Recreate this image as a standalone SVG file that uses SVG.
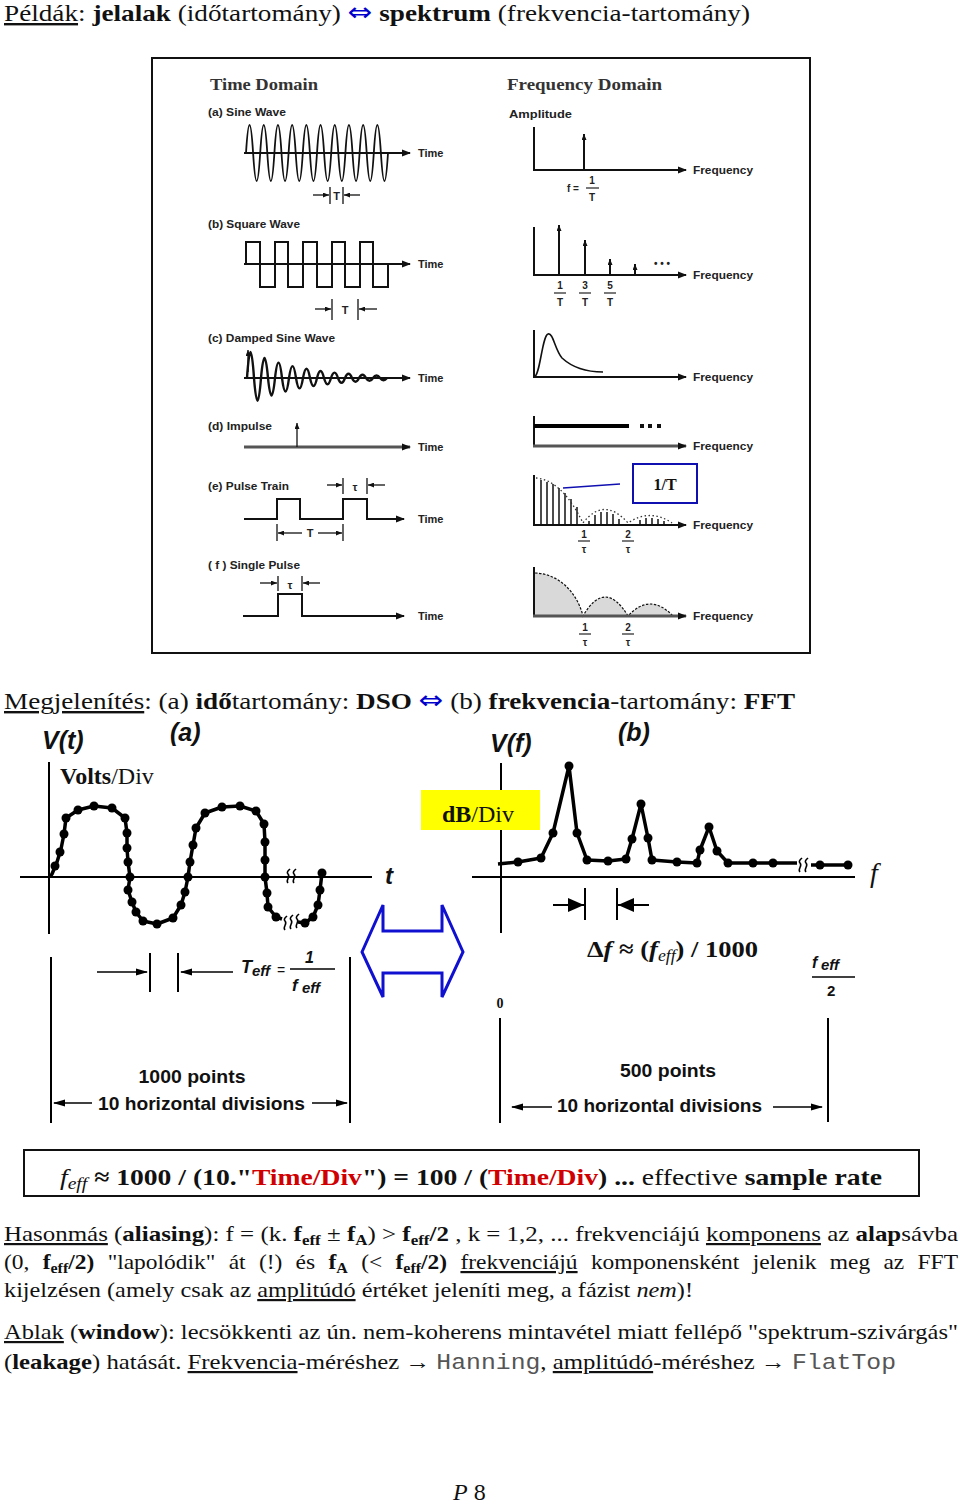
<svg xmlns="http://www.w3.org/2000/svg" width="960" height="1504" viewBox="0 0 960 1504">
<defs>
<style>
.serif{font-family:"Liberation Serif","Times New Roman",serif;fill:#111}
.sans{font-family:"Liberation Sans",Arial,sans-serif;fill:#111}
.lbl{font-family:"Liberation Sans",Arial,sans-serif;font-weight:bold;font-size:11px;fill:#222}
.ttl{font-family:"Liberation Serif","Times New Roman",serif;font-weight:bold;font-size:16px;fill:#333}
.frac{font-family:"Liberation Sans",Arial,sans-serif;font-weight:bold;font-size:10px;fill:#222;text-anchor:middle}
.ax{stroke:#111;stroke-width:2;fill:none}
.axg{stroke:#555;stroke-width:3;fill:none}
.w{stroke:#111;fill:none}
.thin{stroke:#111;stroke-width:1.3;fill:none}
.b{font-weight:bold}
.u{text-decoration:underline}
.i{font-style:italic}
.red{fill:#d00000}
.mono{font-family:"Liberation Mono","Courier New",monospace;fill:#555}
.arr{font-family:"DejaVu Sans",sans-serif;fill:#0000cc;font-size:26px}
.big{font-family:"Liberation Sans",Arial,sans-serif;font-weight:bold;font-style:italic;fill:#111}
.pts{font-family:"Liberation Sans",Arial,sans-serif;font-weight:bold;font-size:19px;fill:#111}
</style>
<marker id="ma" markerUnits="userSpaceOnUse" markerWidth="9" markerHeight="8" viewBox="0 0 9 8" refX="8" refY="4" orient="auto"><path d="M0,0.5 L9,4 L0,7.5z" fill="#111"/></marker>
<marker id="ms" markerUnits="userSpaceOnUse" markerWidth="6" markerHeight="5" viewBox="0 0 6 5" refX="6" refY="2.5" orient="auto"><path d="M0,0 L6,2.5 L0,5z" fill="#111"/></marker>
<marker id="mb" markerUnits="userSpaceOnUse" markerWidth="12" markerHeight="8" viewBox="0 0 12 8" refX="11" refY="4" orient="auto"><path d="M0,0.5 L12,4 L0,7.5z" fill="#000"/></marker>
<marker id="mt" markerUnits="userSpaceOnUse" markerWidth="16" markerHeight="14" viewBox="0 0 16 14" refX="16" refY="7" orient="auto"><path d="M0,0 L16,7 L0,14z" fill="#000"/></marker>
</defs>
<rect width="960" height="1504" fill="#fff"/>

<g id="title">
<text class="serif" x="4" y="21" font-size="24" textLength="746" lengthAdjust="spacingAndGlyphs"><tspan class="u">Példák</tspan>: <tspan class="b">jelalak</tspan> (időtartomány) <tspan class="arr">⇔</tspan> <tspan class="b">spektrum</tspan> (frekvencia-tartomány)</text>
</g>

<g id="examples-panel">
<rect x="152" y="58" width="658" height="595" fill="#fff" stroke="#111" stroke-width="2"/>
<text class="ttl" x="210" y="90" textLength="108" lengthAdjust="spacingAndGlyphs">Time Domain</text>
<text class="ttl" x="507" y="90" textLength="155" lengthAdjust="spacingAndGlyphs">Frequency Domain</text>
<text class="lbl" x="509" y="118" textLength="63" lengthAdjust="spacingAndGlyphs">Amplitude</text>

<g id="sine-wave">
<text class="lbl" x="208" y="116" textLength="78" lengthAdjust="spacingAndGlyphs">(a) Sine Wave</text>
<line class="ax" x1="244" y1="153" x2="410" y2="153" marker-end="url(#ma)"/>
<path class="w" stroke-width="1.8" d="M246,153 q3.55,-56 7.1,0 t7.1,0 t7.1,0 t7.1,0 t7.1,0 t7.1,0 t7.1,0 t7.1,0 t7.1,0 t7.1,0 t7.1,0 t7.1,0 t7.1,0 t7.1,0 t7.1,0 t7.1,0 t7.1,0 t7.1,0 t7.1,0 t7.1,0"/>
<text class="lbl" x="418" y="157">Time</text>
<line class="thin" x1="330" y1="187" x2="330" y2="204"/><line class="thin" x1="343" y1="187" x2="343" y2="204"/>
<line class="thin" x1="313" y1="195" x2="329" y2="195" marker-end="url(#ms)"/><line class="thin" x1="360" y1="195" x2="344" y2="195" marker-end="url(#ms)"/>
<text class="lbl" x="336.5" y="200" text-anchor="middle">T</text>
</g>
<g id="freq-a">
<line class="ax" x1="534" y1="127" x2="534" y2="170"/>
<line class="ax" x1="533" y1="170" x2="686" y2="170" marker-end="url(#ma)"/>
<line class="ax" x1="584" y1="170" x2="584" y2="134" marker-end="url(#ms)"/>
<text class="lbl" x="693" y="174" textLength="60" lengthAdjust="spacingAndGlyphs">Frequency</text>
<text class="frac" x="573" y="192">f =</text>
<text class="frac" x="592" y="184">1</text><line x1="586" y1="188" x2="599" y2="188" stroke="#222" stroke-width="1.2"/><text class="frac" x="592" y="201">T</text>
</g>

<g id="square-wave">
<text class="lbl" x="208" y="228" textLength="92" lengthAdjust="spacingAndGlyphs">(b) Square Wave</text>
<line class="ax" x1="244" y1="264" x2="410" y2="264" marker-end="url(#ma)"/>
<path class="w" stroke-width="2" d="M246,264 V242 H260 V287 H275 V242 H288 V287 H303 V242 H317 V287 H332 V242 H345 V287 H360 V242 H373 V287 H388 V264"/>
<text class="lbl" x="418" y="268">Time</text>
<line class="thin" x1="332" y1="299" x2="332" y2="320"/><line class="thin" x1="358" y1="299" x2="358" y2="320"/>
<line class="thin" x1="315" y1="309" x2="331" y2="309" marker-end="url(#ms)"/><line class="thin" x1="377" y1="309" x2="359" y2="309" marker-end="url(#ms)"/>
<text class="lbl" x="345" y="314" text-anchor="middle">T</text>
</g>
<g id="freq-b">
<line class="ax" x1="534" y1="227" x2="534" y2="275"/>
<line class="ax" x1="533" y1="275" x2="686" y2="275" marker-end="url(#ma)"/>
<line class="ax" x1="559" y1="275" x2="559" y2="225" marker-end="url(#ms)"/>
<line class="ax" x1="585" y1="275" x2="585" y2="240" marker-end="url(#ms)"/>
<line class="ax" x1="610" y1="275" x2="610" y2="259" marker-end="url(#ms)"/>
<line class="ax" x1="635" y1="275" x2="635" y2="264" marker-end="url(#ms)"/>
<text class="frac" x="662" y="267" font-size="12">• • •</text>
<text class="lbl" x="693" y="279" textLength="60" lengthAdjust="spacingAndGlyphs">Frequency</text>
<text class="frac" x="560" y="289">1</text><line x1="554" y1="293" x2="566" y2="293" stroke="#222" stroke-width="1.2"/><text class="frac" x="560" y="306">T</text>
<text class="frac" x="585" y="289">3</text><line x1="579" y1="293" x2="591" y2="293" stroke="#222" stroke-width="1.2"/><text class="frac" x="585" y="306">T</text>
<text class="frac" x="610" y="289">5</text><line x1="604" y1="293" x2="616" y2="293" stroke="#222" stroke-width="1.2"/><text class="frac" x="610" y="306">T</text>
</g>

<g id="damped-wave">
<text class="lbl" x="208" y="342" textLength="127" lengthAdjust="spacingAndGlyphs">(c) Damped Sine Wave</text>
<line class="ax" x1="244" y1="378" x2="410" y2="378" marker-end="url(#ma)"/>
<line class="thin" x1="248" y1="372" x2="248" y2="350" marker-end="url(#ms)"/>
<path class="w" stroke-width="2.4" d="M247,378 q3.5,-52 7,0 q3.5,45.6 7,0 q3.5,-40 7,0 q3.5,35.2 7,0 q3.5,-30.8 7,0 q3.5,27 7,0 q3.5,-23.8 7,0 q3.5,20.8 7,0 q3.5,-18.4 7,0 q3.5,16 7,0 q3.5,-14 7,0 q3.5,12.4 7,0 q3.5,-10.8 7,0 q3.5,9.6 7,0 q3.5,-8.4 7,0 q3.5,7.4 7,0 q3.5,-6.4 7,0 q3.5,5.6 7,0 q3.5,-5 7,0 q3.5,4.4 7,0"/>
<text class="lbl" x="418" y="382">Time</text>
</g>
<g id="freq-c">
<line class="ax" x1="534" y1="330" x2="534" y2="377"/>
<line class="ax" x1="533" y1="377" x2="686" y2="377" marker-end="url(#ma)"/>
<path class="w" stroke-width="1.6" d="M534,377 C540,377 542,336 548,334 C553,332 555,350 562,358 C574,369 588,372 603,372"/>
<text class="lbl" x="693" y="381" textLength="60" lengthAdjust="spacingAndGlyphs">Frequency</text>
</g>

<g id="impulse">
<text class="lbl" x="208" y="430" textLength="64" lengthAdjust="spacingAndGlyphs">(d) Impulse</text>
<line class="axg" x1="244" y1="447" x2="410" y2="447" marker-end="url(#ma)"/>
<line class="thin" x1="297" y1="447" x2="297" y2="423" marker-end="url(#ms)"/>
<text class="lbl" x="418" y="451">Time</text>
</g>
<g id="freq-d">
<line class="ax" x1="534" y1="416" x2="534" y2="446"/>
<line class="axg" x1="533" y1="446" x2="686" y2="446" marker-end="url(#ma)"/>
<line x1="534" y1="426" x2="629" y2="426" stroke="#000" stroke-width="4"/>
<rect x="640" y="424" width="4" height="4" fill="#111"/><rect x="648" y="424" width="4" height="4" fill="#111"/><rect x="657" y="424" width="4" height="4" fill="#111"/>
<text class="lbl" x="693" y="450" textLength="60" lengthAdjust="spacingAndGlyphs">Frequency</text>
</g>

<g id="pulse-train">
<text class="lbl" x="208" y="490" textLength="81" lengthAdjust="spacingAndGlyphs">(e) Pulse Train</text>
<path class="w" stroke-width="2" d="M244,519 H277 V499 H300 V519 H343 V499 H367 V519 H404" marker-end="url(#ma)"/>
<text class="lbl" x="418" y="523">Time</text>
<line class="thin" x1="343" y1="478" x2="343" y2="494"/><line class="thin" x1="367" y1="478" x2="367" y2="494"/>
<line class="thin" x1="327" y1="485" x2="342" y2="485" marker-end="url(#ms)"/><line class="thin" x1="385" y1="485" x2="368" y2="485" marker-end="url(#ms)"/>
<text class="lbl" x="355" y="491" text-anchor="middle" font-size="13">τ</text>
<line class="thin" x1="277" y1="524" x2="277" y2="541"/><line class="thin" x1="343" y1="524" x2="343" y2="541"/>
<line class="thin" x1="302" y1="533" x2="278" y2="533" marker-end="url(#ms)"/><line class="thin" x1="318" y1="533" x2="342" y2="533" marker-end="url(#ms)"/>
<text class="lbl" x="310" y="537" text-anchor="middle">T</text>
</g>
<g id="freq-e">
<line class="ax" x1="534" y1="475" x2="534" y2="525"/>
<line class="ax" x1="533" y1="525" x2="686" y2="525" marker-end="url(#ma)"/>
<g stroke="#111" stroke-width="1.5">
<line x1="541" y1="525" x2="541" y2="480"/><line x1="547" y1="525" x2="547" y2="482"/><line x1="553" y1="525" x2="553" y2="484"/><line x1="559" y1="525" x2="559" y2="488"/><line x1="565" y1="525" x2="565" y2="493"/><line x1="571" y1="525" x2="571" y2="499"/><line x1="577" y1="525" x2="577" y2="507"/>
<line x1="589" y1="525" x2="589" y2="521"/><line x1="595" y1="525" x2="595" y2="515"/><line x1="601" y1="525" x2="601" y2="512"/><line x1="607" y1="525" x2="607" y2="512"/><line x1="613" y1="525" x2="613" y2="514"/><line x1="619" y1="525" x2="619" y2="519"/>
<line x1="640" y1="525" x2="640" y2="520"/><line x1="646" y1="525" x2="646" y2="518"/><line x1="652" y1="525" x2="652" y2="518"/><line x1="658" y1="525" x2="658" y2="519"/><line x1="664" y1="525" x2="664" y2="521"/>
</g>
<path d="M536,478 Q562,480 583,523 Q604,496 628,523 Q650,508 672,523" fill="none" stroke="#333" stroke-width="1.3" stroke-dasharray="1.5,2.5"/>
<line x1="563" y1="488" x2="620" y2="484" stroke="#1010b0" stroke-width="1.6"/>
<rect x="633" y="464" width="64" height="39" fill="#fff" stroke="#1010b0" stroke-width="2"/>
<text class="serif b" x="665" y="490" font-size="16" text-anchor="middle">1/T</text>
<text class="lbl" x="693" y="529" textLength="60" lengthAdjust="spacingAndGlyphs">Frequency</text>
<text class="frac" x="584" y="538">1</text><line x1="578" y1="541" x2="590" y2="541" stroke="#222" stroke-width="1.2"/><text class="frac" x="584" y="553" font-size="12">τ</text>
<text class="frac" x="628" y="538">2</text><line x1="622" y1="541" x2="634" y2="541" stroke="#222" stroke-width="1.2"/><text class="frac" x="628" y="553" font-size="12">τ</text>
</g>

<g id="single-pulse">
<text class="lbl" x="208" y="569" textLength="92" lengthAdjust="spacingAndGlyphs">( f ) Single Pulse</text>
<path class="w" stroke-width="2" d="M243,616 H278 V594 H302 V616 H404" marker-end="url(#ma)"/>
<text class="lbl" x="418" y="620">Time</text>
<line class="thin" x1="278" y1="576" x2="278" y2="591"/><line class="thin" x1="302" y1="576" x2="302" y2="591"/>
<line class="thin" x1="260" y1="583" x2="277" y2="583" marker-end="url(#ms)"/><line class="thin" x1="320" y1="583" x2="303" y2="583" marker-end="url(#ms)"/>
<text class="lbl" x="290" y="589" text-anchor="middle" font-size="13">τ</text>
</g>
<g id="freq-f">
<path d="M534,616 L534,573 C558,573 577,592 583,616 Q605,578 628,616 Q650,592 673,616 Z" fill="#d9d9d9" stroke="#111" stroke-width="1.2" stroke-dasharray="2.5,1.5"/>
<line class="ax" x1="534" y1="567" x2="534" y2="616"/>
<line class="axg" x1="533" y1="616" x2="686" y2="616" marker-end="url(#ma)"/>
<text class="lbl" x="693" y="620" textLength="60" lengthAdjust="spacingAndGlyphs">Frequency</text>
<text class="frac" x="585" y="631">1</text><line x1="579" y1="634" x2="591" y2="634" stroke="#222" stroke-width="1.2"/><text class="frac" x="585" y="646" font-size="12">τ</text>
<text class="frac" x="628" y="631">2</text><line x1="622" y1="634" x2="634" y2="634" stroke="#222" stroke-width="1.2"/><text class="frac" x="628" y="646" font-size="12">τ</text>
</g>
</g>

<g id="display-heading">
<text class="serif" x="4" y="709" font-size="24" textLength="791" lengthAdjust="spacingAndGlyphs"><tspan class="u">Megjelenítés</tspan>: (a) <tspan class="b">idő</tspan>tartomány: <tspan class="b">DSO</tspan> <tspan class="arr">⇔</tspan> (b) <tspan class="b">frekvencia</tspan>-tartomány: <tspan class="b">FFT</tspan></text>
</g>

<g id="dso-time">
<text class="big" x="42" y="749" font-size="25">V(t)</text>
<text class="big" x="170" y="741" font-size="25">(a)</text>
<text class="serif" x="60" y="784" font-size="24"><tspan class="b">Volts</tspan>/Div</text>
<line x1="49" y1="762" x2="49" y2="934" stroke="#000" stroke-width="2"/>
<line x1="20" y1="877" x2="372" y2="877" stroke="#000" stroke-width="2"/>
<text class="big" x="385" y="884" font-size="24">t</text>
<polyline fill="none" stroke="#000" stroke-width="3.5" stroke-linejoin="round" points="50,877 52,874 57,862 61,849 64,834 66,818 78,810 94,806 112,808 125,818 127,833 127,848 128,862 130,877 128,890 132,902 136,912 143,921 157,924 173,918 181,905 185,892 188,877 190,862 193,845 196,828 205,813 222,807 240,806 256,811 264,824 265,842 265,860 265,877 267,893 268,907 276,917 282,919"/>
<polyline fill="none" stroke="#000" stroke-width="3.5" stroke-linejoin="round" points="298,922 305,923 313,917 318,905 320,890 322,873"/>
<g fill="#000">
<circle cx="55" cy="866" r="4.5"/><circle cx="60" cy="852" r="4.5"/><circle cx="64" cy="834" r="4.5"/><circle cx="66" cy="818" r="4.5"/><circle cx="78" cy="810" r="4.5"/><circle cx="94" cy="806" r="4.5"/><circle cx="112" cy="808" r="4.5"/><circle cx="125" cy="818" r="4.5"/><circle cx="127" cy="833" r="4.5"/><circle cx="127" cy="848" r="4.5"/><circle cx="128" cy="862" r="4.5"/><circle cx="130" cy="877" r="4.5"/><circle cx="128" cy="890" r="4.5"/><circle cx="132" cy="902" r="4.5"/><circle cx="136" cy="912" r="4.5"/><circle cx="143" cy="921" r="4.5"/><circle cx="157" cy="924" r="4.5"/><circle cx="173" cy="918" r="4.5"/><circle cx="181" cy="905" r="4.5"/><circle cx="185" cy="892" r="4.5"/><circle cx="188" cy="877" r="4.5"/><circle cx="190" cy="862" r="4.5"/><circle cx="193" cy="845" r="4.5"/><circle cx="196" cy="828" r="4.5"/><circle cx="205" cy="813" r="4.5"/><circle cx="222" cy="807" r="4.5"/><circle cx="240" cy="806" r="4.5"/><circle cx="256" cy="811" r="4.5"/><circle cx="264" cy="824" r="4.5"/><circle cx="265" cy="842" r="4.5"/><circle cx="265" cy="860" r="4.5"/><circle cx="265" cy="877" r="4.5"/><circle cx="267" cy="893" r="4.5"/><circle cx="268" cy="907" r="4.5"/><circle cx="276" cy="917" r="4.5"/><circle cx="305" cy="923" r="4.5"/><circle cx="313" cy="917" r="4.5"/><circle cx="318" cy="905" r="4.5"/><circle cx="320" cy="890" r="4.5"/><circle cx="322" cy="873" r="4.5"/>
</g>
<g fill="none" stroke="#000" stroke-width="1.6">
<path d="M288,883 c-3,-3 3,-6 0,-9 c-2,-2 1,-4 2,-5"/><path d="M294,883 c-3,-3 3,-6 0,-9 c-2,-2 1,-4 2,-5"/>
<path d="M285,930 c-3,-3 3,-6 0,-9 c-2,-2 1,-4 2,-5"/><path d="M291,929 c-3,-3 3,-6 0,-9 c-2,-2 1,-4 2,-5"/><path d="M297,928 c-3,-3 3,-6 0,-9 c-2,-2 1,-4 2,-5"/>
</g>
<line x1="150" y1="953" x2="150" y2="992" stroke="#000" stroke-width="2"/>
<line x1="178" y1="953" x2="178" y2="992" stroke="#000" stroke-width="2"/>
<line x1="97" y1="972" x2="147" y2="972" stroke="#000" stroke-width="1.6" marker-end="url(#mb)"/>
<line x1="233" y1="972" x2="181" y2="972" stroke="#000" stroke-width="1.6" marker-end="url(#mb)"/>
<text class="big" x="241" y="973" font-size="18">T</text><text class="big" x="252" y="976" font-size="15">eff</text>
<text class="sans" x="277" y="975" font-size="14">=</text>
<text class="big" x="305" y="963" font-size="16">1</text>
<line x1="290" y1="969" x2="335" y2="969" stroke="#000" stroke-width="1.5"/>
<text class="big" x="292" y="991" font-size="17">f</text><text class="big" x="302" y="993" font-size="15">eff</text>
<line x1="51" y1="957" x2="51" y2="1123" stroke="#000" stroke-width="2"/>
<line x1="350" y1="957" x2="350" y2="1123" stroke="#000" stroke-width="2"/>
<text class="pts" x="192" y="1083" text-anchor="middle" textLength="107" lengthAdjust="spacingAndGlyphs">1000 points</text>
<text class="pts" x="98" y="1110" textLength="207" lengthAdjust="spacingAndGlyphs">10 horizontal divisions</text>
<line x1="92" y1="1103" x2="54" y2="1103" stroke="#000" stroke-width="1.6" marker-end="url(#mb)"/>
<line x1="312" y1="1103" x2="347" y2="1103" stroke="#000" stroke-width="1.6" marker-end="url(#mb)"/>
</g>

<g id="double-arrow">
<polygon points="362,952 383,905 383,931 442,931 442,905 463,952 442,997 442,973 383,973 383,997" fill="#fff" stroke="#1010d0" stroke-width="3" stroke-linejoin="miter"/>
</g>

<g id="fft-freq">
<text class="big" x="490" y="752" font-size="25">V(f)</text>
<text class="big" x="618" y="741" font-size="25">(b)</text>
<line x1="501" y1="763" x2="501" y2="933" stroke="#000" stroke-width="2"/>
<rect x="421" y="790" width="119" height="40" fill="#ffff00"/>
<text class="serif" x="442" y="822" font-size="24"><tspan class="b">dB</tspan>/Div</text>
<line x1="472" y1="877" x2="855" y2="877" stroke="#000" stroke-width="2"/>
<text class="serif i" x="870" y="882" font-size="28">f</text>
<polyline fill="none" stroke="#000" stroke-width="3.5" stroke-linejoin="round" points="498,864 518,862 541,858 553,833 569,766 577,833 587,860 608,861 626,859 632,839 641,804 648,838 652,860 677,862 697,863 700,850 709,827 717,851 728,863 753,863 773,863 797,863"/>
<polyline fill="none" stroke="#000" stroke-width="3.5" points="811,865 848,865"/>
<g fill="none" stroke="#000" stroke-width="1.6">
<path d="M800,872 c-3,-3 3,-6 0,-9 c-2,-2 1,-4 2,-5"/><path d="M806,872 c-3,-3 3,-6 0,-9 c-2,-2 1,-4 2,-5"/>
</g>
<g fill="#000">
<circle cx="518" cy="862" r="4.5"/><circle cx="541" cy="858" r="4.5"/><circle cx="553" cy="833" r="4.5"/><circle cx="569" cy="766" r="4.5"/><circle cx="577" cy="833" r="4.5"/><circle cx="587" cy="860" r="4.5"/><circle cx="608" cy="861" r="4.5"/><circle cx="626" cy="859" r="4.5"/><circle cx="632" cy="839" r="4.5"/><circle cx="641" cy="804" r="4.5"/><circle cx="648" cy="838" r="4.5"/><circle cx="652" cy="860" r="4.5"/><circle cx="677" cy="862" r="4.5"/><circle cx="697" cy="863" r="4.5"/><circle cx="700" cy="850" r="4.5"/><circle cx="709" cy="827" r="4.5"/><circle cx="717" cy="851" r="4.5"/><circle cx="728" cy="863" r="4.5"/><circle cx="753" cy="863" r="4.5"/><circle cx="773" cy="863" r="4.5"/><circle cx="820" cy="865" r="4.5"/><circle cx="848" cy="865" r="4.5"/>
</g>
<line x1="585" y1="888" x2="585" y2="920" stroke="#000" stroke-width="2"/>
<line x1="617" y1="888" x2="617" y2="920" stroke="#000" stroke-width="2"/>
<line x1="553" y1="905" x2="584" y2="905" stroke="#000" stroke-width="2" marker-end="url(#mt)"/>
<line x1="649" y1="905" x2="618" y2="905" stroke="#000" stroke-width="2" marker-end="url(#mt)"/>
<text class="serif b" x="587" y="957" font-size="24" textLength="171" lengthAdjust="spacingAndGlyphs">Δ<tspan class="i">f</tspan> ≈ (<tspan class="i">f</tspan><tspan class="i" font-weight="normal" font-size="16" dy="4">eff</tspan><tspan dy="-4">) / 1000</tspan></text>
<text class="big" x="812" y="968" font-size="16">f</text><text class="big" x="821" y="970" font-size="15">eff</text>
<line x1="812" y1="977" x2="855" y2="977" stroke="#000" stroke-width="1.5"/>
<text class="sans b" x="827" y="996" font-size="15">2</text>
<text class="serif b" x="500" y="1008" font-size="14" text-anchor="middle">0</text>
<line x1="500" y1="1018" x2="500" y2="1123" stroke="#000" stroke-width="2"/>
<line x1="828" y1="1018" x2="828" y2="1122" stroke="#000" stroke-width="2"/>
<text class="pts" x="668" y="1077" text-anchor="middle" textLength="96" lengthAdjust="spacingAndGlyphs">500 points</text>
<text class="pts" x="557" y="1112" textLength="205" lengthAdjust="spacingAndGlyphs">10 horizontal divisions</text>
<line x1="552" y1="1107" x2="512" y2="1107" stroke="#000" stroke-width="1.6" marker-end="url(#mb)"/>
<line x1="773" y1="1107" x2="822" y2="1107" stroke="#000" stroke-width="1.6" marker-end="url(#mb)"/>
</g>

<g id="sample-rate-box">
<rect x="24" y="1150" width="895" height="46" fill="#fff" stroke="#111" stroke-width="2"/>
<text class="serif" x="60" y="1185" font-size="24" textLength="822" lengthAdjust="spacingAndGlyphs"><tspan class="i">f</tspan><tspan class="i" font-size="17" dy="4">eff</tspan><tspan class="b" dy="-4">  ≈ 1000 / (10."</tspan><tspan class="b red">Time/Div</tspan><tspan class="b">") = 100 / (</tspan><tspan class="b red">Time/Div</tspan><tspan class="b">)  ...</tspan>   effective <tspan class="b">sample rate</tspan></text>
</g>

<g id="text-aliasing">
<text class="serif" x="4" y="1241" font-size="22" textLength="954" lengthAdjust="spacingAndGlyphs"><tspan class="u">Hasonmás</tspan> (<tspan class="b">aliasing</tspan>):  f = (k. <tspan class="b">f</tspan><tspan class="b" font-size="15" dy="4">eff</tspan><tspan dy="-4"> ± </tspan><tspan class="b">f</tspan><tspan class="b" font-size="15" dy="4">A</tspan><tspan dy="-4">) &gt; </tspan><tspan class="b">f</tspan><tspan class="b" font-size="15" dy="4">eff</tspan><tspan class="b" dy="-4">/2</tspan> , k = 1,2, ... frekvenciájú <tspan class="u">komponens</tspan> az <tspan class="b">alap</tspan>sávba</text>
<text class="serif" x="4" y="1269" font-size="22" word-spacing="7" textLength="954" lengthAdjust="spacingAndGlyphs">(0, <tspan class="b">f</tspan><tspan class="b" font-size="15" dy="4">eff</tspan><tspan class="b" dy="-4">/2)</tspan> "lapolódik" át (!) és <tspan class="b">f</tspan><tspan class="b" font-size="15" dy="4">A</tspan><tspan dy="-4"> (&lt; </tspan><tspan class="b">f</tspan><tspan class="b" font-size="15" dy="4">eff</tspan><tspan class="b" dy="-4">/2)</tspan> <tspan class="u">frekvenciájú</tspan> komponensként jelenik meg az FFT</text>
<text class="serif" x="4" y="1297" font-size="22" textLength="689" lengthAdjust="spacingAndGlyphs">kijelzésen (amely csak az <tspan class="u">amplitúdó</tspan> értéket jeleníti meg, a fázist <tspan class="i">nem</tspan>)!</text>
</g>

<g id="text-window">
<text class="serif" x="4" y="1339" font-size="22" textLength="954" lengthAdjust="spacingAndGlyphs"><tspan class="u">Ablak</tspan> (<tspan class="b">window</tspan>): lecsökkenti az ún. nem-koherens mintavétel miatt fellépő "spektrum-szivárgás"</text>
<text class="serif" x="4" y="1369" font-size="22" textLength="892" lengthAdjust="spacingAndGlyphs">(<tspan class="b">leakage</tspan>) hatását.  <tspan class="u">Frekvencia</tspan>-méréshez → <tspan class="mono">Hanning</tspan>,  <tspan class="u">amplitúdó</tspan>-méréshez → <tspan class="mono">FlatTop</tspan></text>
</g>

<g id="page-number">
<text class="serif" x="453" y="1500" font-size="24"><tspan class="i">P</tspan> 8</text>
</g>
</svg>
